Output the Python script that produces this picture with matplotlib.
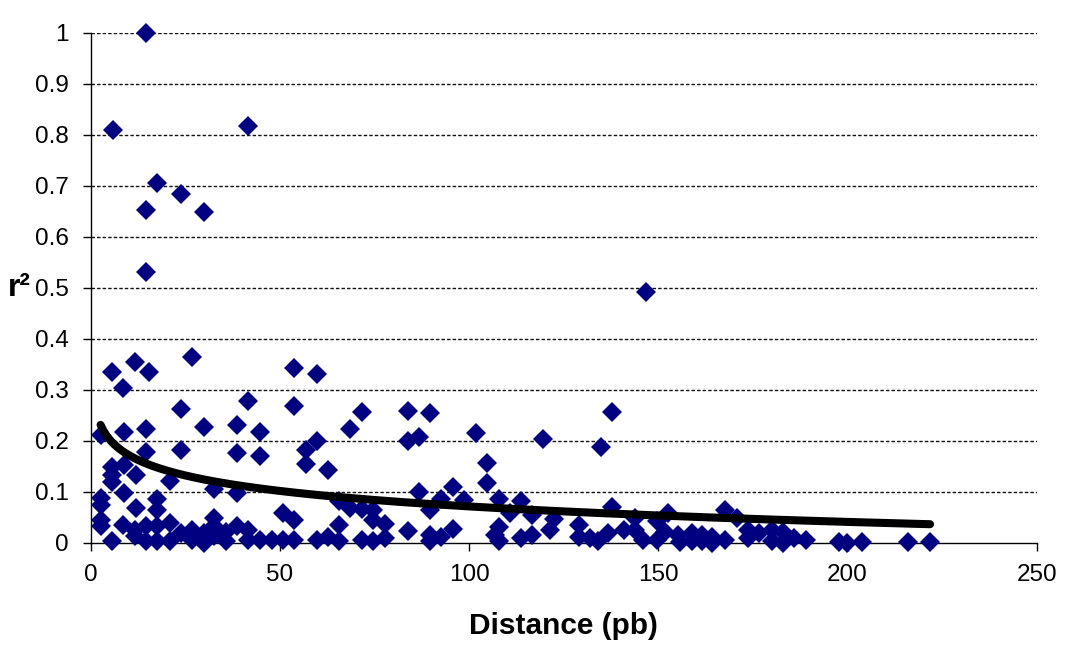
import numpy as np
import matplotlib
matplotlib.use("Agg")
import matplotlib.pyplot as plt

plt.rcParams['font.family'] = ['Liberation Sans', 'DejaVu Sans']

# data, grouped in bands of r2
dist_top = [14.6, 5.9, 41.6, 17.5, 23.9, 14.6, 29.9, 14.6, 146.7]
r2_top = [1.0, 0.81, 0.818, 0.705, 0.683, 0.653, 0.648, 0.53, 0.491]

dist_mid = [5.7, 11.7, 15.5, 8.6, 26.8, 2.6, 8.9, 14.6, 23.9, 29.8,
            38.7, 41.6, 44.6, 53.8, 53.8, 59.7, 59.7, 56.8, 56.8, 62.6,
            68.5, 71.6, 14.6, 23.9, 38.7, 44.6, 5.7, 8.9]
r2_mid = [0.335, 0.355, 0.335, 0.304, 0.365, 0.211, 0.218, 0.223, 0.262, 0.226,
          0.230, 0.277, 0.217, 0.342, 0.269, 0.330, 0.200, 0.182, 0.155, 0.142,
          0.223, 0.257, 0.177, 0.181, 0.176, 0.171, 0.149, 0.153]

dist_low = [5.7, 5.7, 11.9, 21.0, 32.7, 38.7, 8.9, 2.6, 2.6, 17.6,
            17.6, 11.9, 50.7, 65.6, 68.5, 71.6, 74.7, 74.7]
r2_low = [0.133, 0.120, 0.133, 0.122, 0.106, 0.097, 0.098, 0.087, 0.074, 0.085,
          0.065, 0.068, 0.059, 0.081, 0.068, 0.066, 0.065, 0.045]

dist_zero = [2.6, 2.6, 8.6, 5.7, 11.7, 11.7, 14.6, 14.6, 17.6, 17.6,
             21.0, 21.0, 23.9, 26.8, 26.8, 29.8, 29.8, 32.7, 32.7, 32.7,
             35.7, 35.7, 38.7, 41.6, 41.6, 44.6, 47.8, 50.7, 53.8, 53.8,
             59.7, 62.6, 65.6, 65.6, 71.6, 74.7, 77.8, 77.8]
r2_zero = [0.045, 0.032, 0.034, 0.003, 0.025, 0.013, 0.032, 0.003, 0.032, 0.003,
           0.039, 0.003, 0.019, 0.025, 0.005, 0.019, 0.0, 0.048, 0.032, 0.013,
           0.022, 0.003, 0.032, 0.025, 0.005, 0.006, 0.006, 0.006, 0.045, 0.006,
           0.006, 0.012, 0.034, 0.003, 0.006, 0.003, 0.037, 0.009]

dist_far = [83.8, 89.7, 83.8, 86.8, 101.8, 119.6, 137.8, 134.9, 104.8, 104.8,
            86.8, 95.7, 92.6, 98.7, 107.9, 113.7, 89.7, 110.8, 116.7, 122.5,
            137.8, 83.8, 89.7, 89.7, 92.6, 95.7, 107.9, 106.7, 107.9, 113.7,
            116.7, 121.4, 128.9, 128.9, 132.0, 134.1, 136.8, 140.9, 143.8, 143.8,
            145.9, 149.7, 149.7, 151.8, 152.6]
r2_far = [0.258, 0.254, 0.200, 0.208, 0.215, 0.203, 0.257, 0.188, 0.157, 0.117,
          0.100, 0.110, 0.085, 0.084, 0.085, 0.081, 0.065, 0.058, 0.055, 0.046,
          0.071, 0.023, 0.016, 0.003, 0.012, 0.027, 0.030, 0.016, 0.003, 0.009,
          0.016, 0.025, 0.035, 0.012, 0.009, 0.003, 0.019, 0.025, 0.025, 0.048,
          0.006, 0.042, 0.005, 0.022, 0.058]

dist_tail = [155.3, 155.7, 158.8, 158.8, 161.5, 161.5, 164.1, 164.1, 167.6, 167.6,
             170.9, 173.8, 173.8, 176.7, 180.0, 180.0, 182.9, 182.9, 185.9, 189.0,
             197.8, 199.9, 203.8, 215.9, 221.8]
r2_tail = [0.016, 0.001, 0.019, 0.003, 0.016, 0.003, 0.012, 0.0, 0.006, 0.065,
           0.048, 0.025, 0.009, 0.019, 0.025, 0.003, 0.022, 0.0, 0.009, 0.006,
           0.001, 0.0, 0.001, 0.001, 0.001]

distance = np.array(dist_top + dist_mid + dist_low + dist_zero + dist_far + dist_tail)
r2 = np.array(r2_top + r2_mid + r2_low + r2_zero + r2_far + r2_tail)

# logarithmic trend line, coefficients (y = a*ln(x) + b)
trend_a = -0.0438
trend_b = 0.2729
xs = np.linspace(distance.min(), distance.max(), 300)
trend = trend_a * np.log(xs) + trend_b

fig = plt.figure(figsize=(10.65, 6.55), dpi=100)
ax = fig.add_axes([0.0852, 0.1714, 0.8883, 0.7786])

ax.plot(distance, r2, linestyle='none', marker='D', markersize=10,
        color='#000080', markeredgewidth=0, clip_on=False, zorder=3)
ax.plot(xs, trend, color='black', linewidth=5.8, solid_capstyle='round', zorder=4)

ax.set_xlim(0, 250)
ax.set_ylim(0, 1)
ax.set_xticks(np.arange(0, 251, 50))
ax.set_yticks(np.arange(0, 1.01, 0.1))
ax.set_yticklabels(['0', '0.1', '0.2', '0.3', '0.4', '0.5', '0.6', '0.7', '0.8', '0.9', '1'])

for y in np.arange(0.1, 1.01, 0.1):
    ax.axhline(y, color='#111111', linewidth=1.0, linestyle=(0, (2.5, 1.5)), zorder=1)

for s in ['top', 'right']:
    ax.spines[s].set_visible(False)
for s in ['left', 'bottom']:
    ax.spines[s].set_linewidth(1)
    ax.spines[s].set_color('black')

ax.tick_params(direction='out', length=6, width=1, labelsize=17.5, colors='black')
ax.tick_params(axis='y', pad=10)
ax.tick_params(axis='x', pad=9)

ax.set_xlabel('Distance (pb)', fontsize=21.5, fontweight='bold', labelpad=19)
ax.set_ylabel('r²', fontsize=23, fontweight='bold', rotation=0, ha='left', va='center')
ax.yaxis.set_label_coords(-0.088, 0.5)

fig.savefig('out.png', dpi=100)
